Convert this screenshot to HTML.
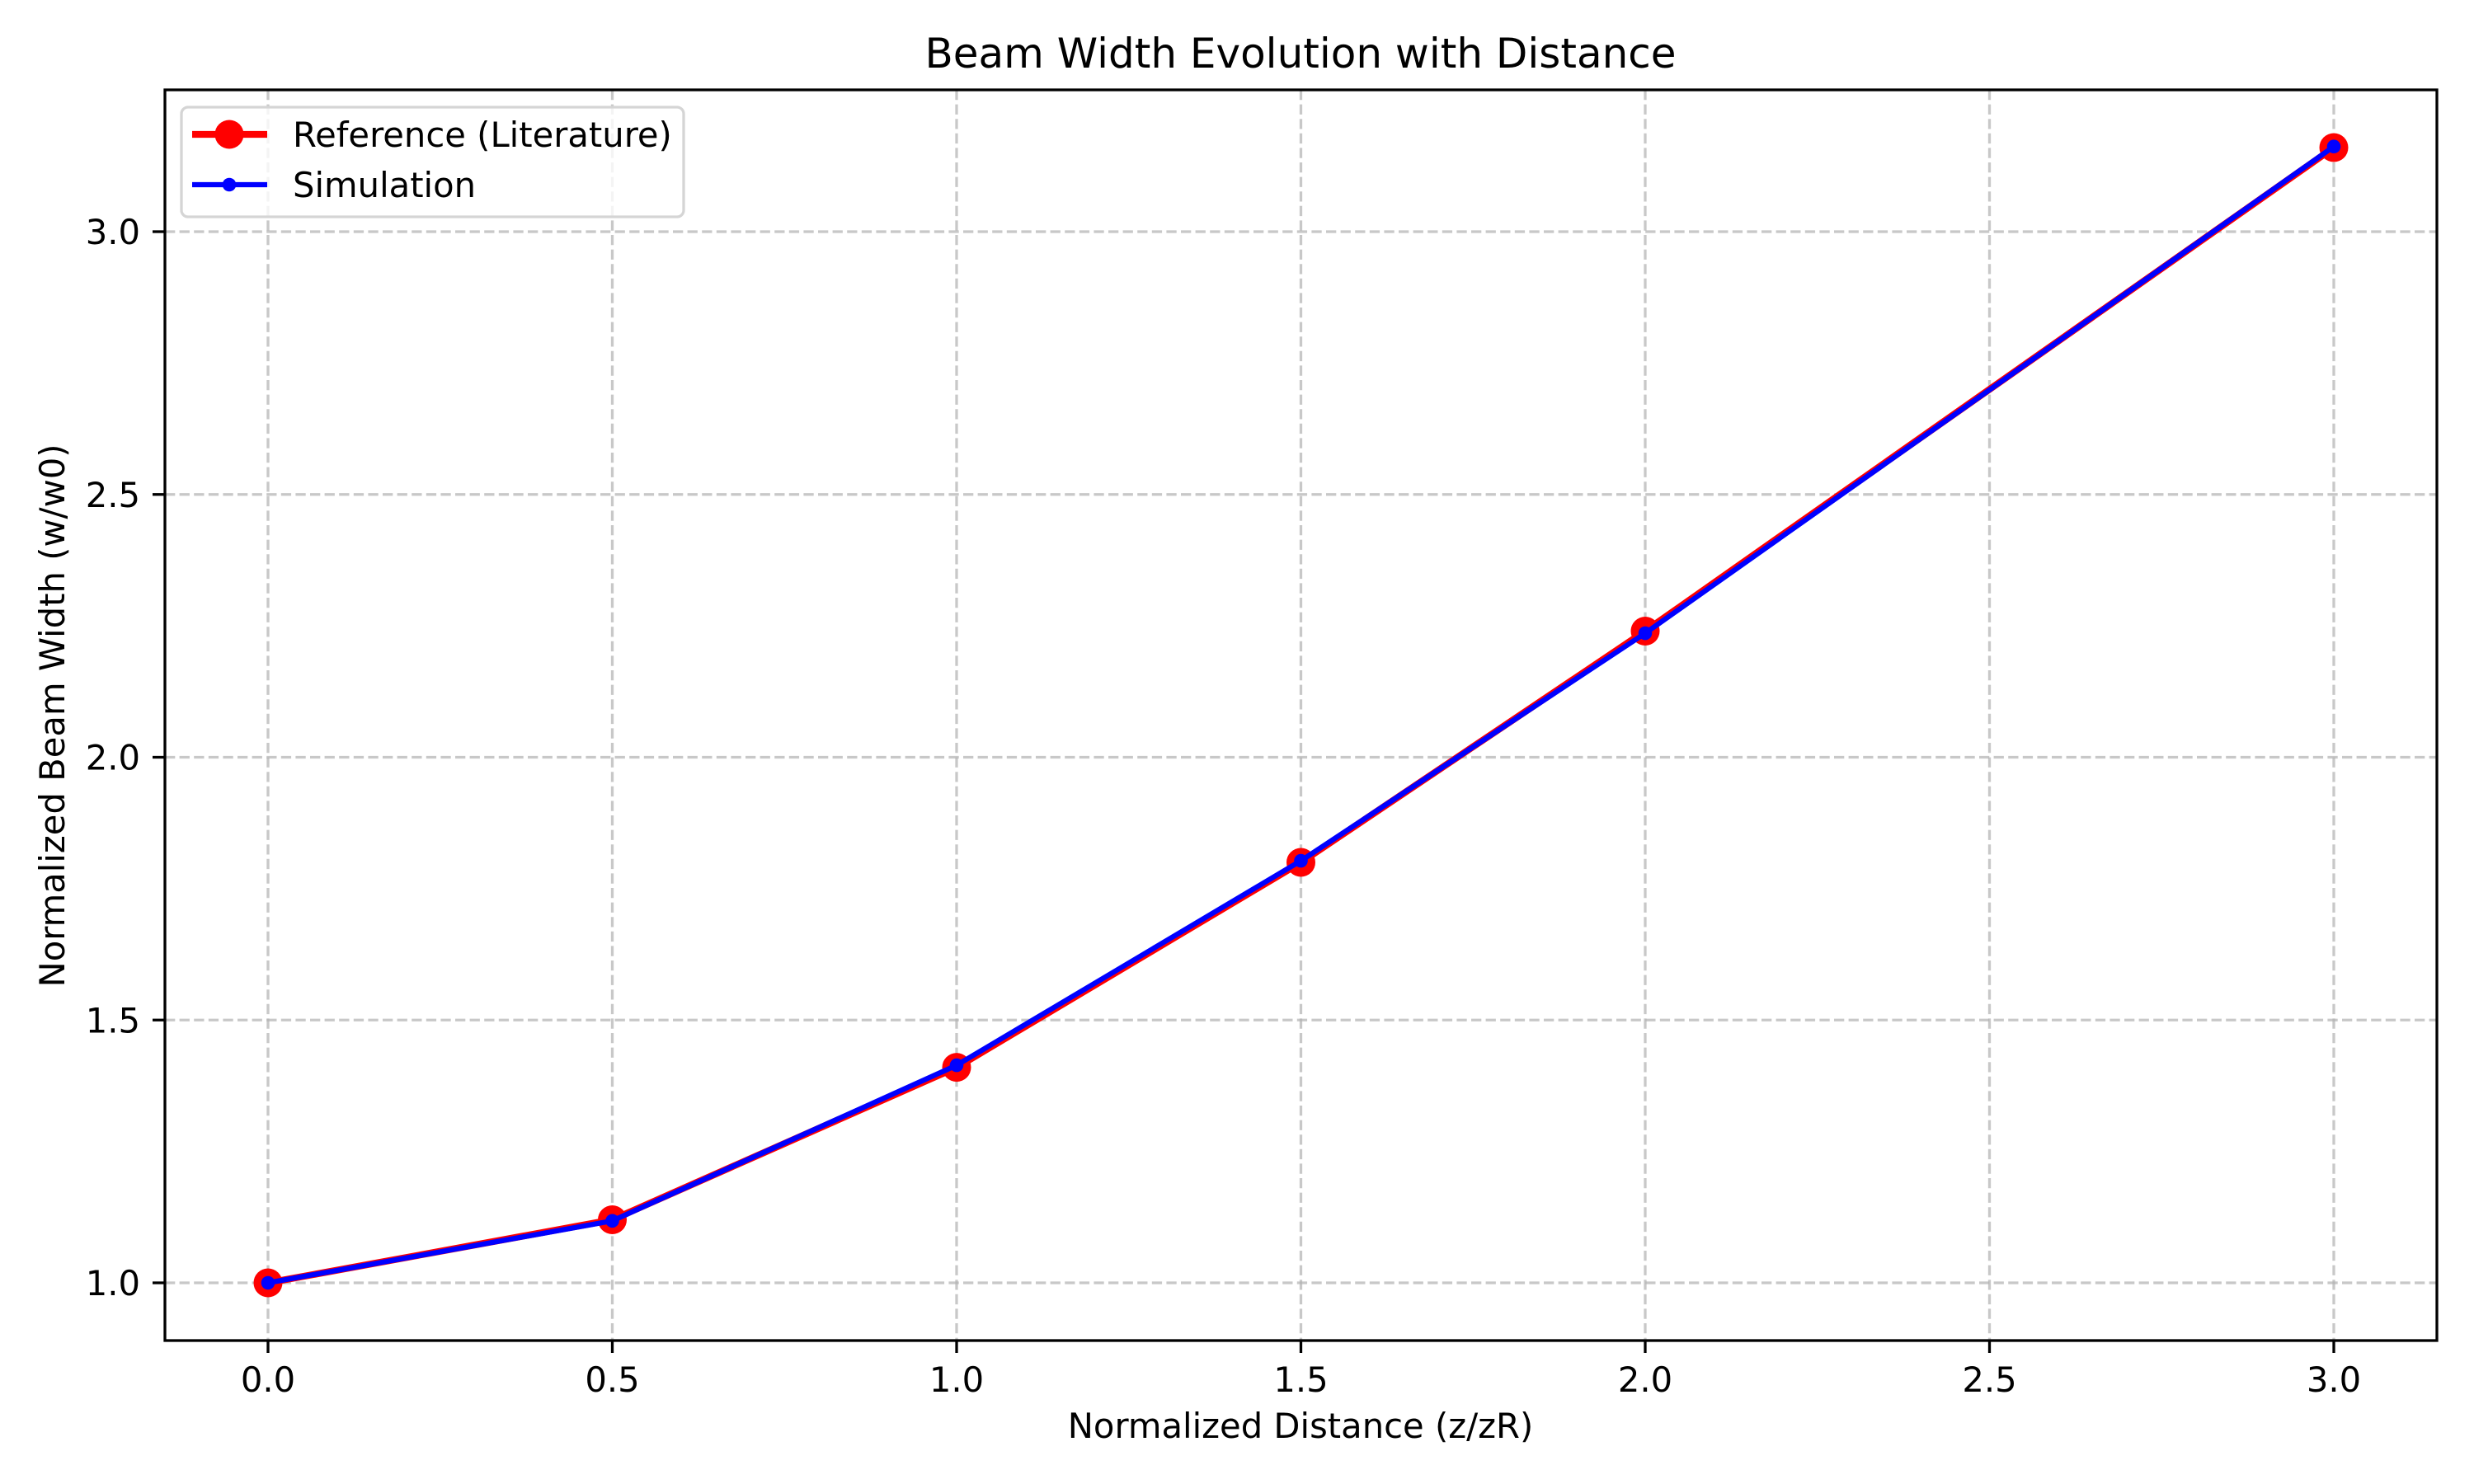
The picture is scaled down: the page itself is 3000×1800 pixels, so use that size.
<!DOCTYPE html>
<html><head><meta charset="utf-8"><style>
html,body{margin:0;padding:0;background:#fff;}
svg{display:block;font-family:"DejaVu Sans","Liberation Sans",sans-serif;}
</style></head><body>
<svg id="chart" width="3000" height="1800" viewBox="0 0 3000 1800">
<rect width="3000" height="1800" fill="#fff"/>
<g id="grid"></g>
<g id="series"></g>
<rect x="200" y="109" width="2755" height="1517" fill="none" stroke="#000" stroke-width="3.3"/>
<g id="ticks"></g>
<text x="1577" y="82" text-anchor="middle" font-size="50">Beam Width Evolution with Distance</text>
<text x="1577" y="1744" text-anchor="middle" font-size="41.7">Normalized Distance (z/zR)</text>
<text x="0" y="0" transform="translate(78,868) rotate(-90)" text-anchor="middle" font-size="41.7">Normalized Beam Width (w/w0)</text>
<g>
<rect x="220" y="130" width="609" height="133" rx="8" fill="#fff" fill-opacity="0.8" stroke="#d5d5d5" stroke-width="3.3"/>
<g>
<line x1="233" y1="163" x2="324" y2="163" stroke="#ff0000" stroke-width="8.3"/>
<circle cx="278" cy="163" r="17.5" fill="#ff0000"/>
<text x="355" y="178" font-size="41.7">Reference (Literature)</text>
</g>
<g>
<line x1="233" y1="224" x2="324" y2="224" stroke="#0000ff" stroke-width="6.25"/>
<circle cx="278" cy="224" r="8.3" fill="#0000ff"/>
<text x="355" y="239" font-size="41.7">Simulation</text>
</g>
</g>
</svg>
<script>
const xValues = [0, 0.5, 1.0, 1.5, 2.0, 3.0];
const referenceValues = [1.0, 1.12, 1.41, 1.80, 2.24, 3.16];
const simulationValues = [1.0, 1.118, 1.414, 1.803, 2.236, 3.162];
const xTicks = [0, 0.5, 1.0, 1.5, 2.0, 2.5, 3.0];
const xTickLabels = ["0.0", "0.5", "1.0", "1.5", "2.0", "2.5", "3.0"];
const yTicks = [1.0, 1.5, 2.0, 2.5, 3.0];
const yTickLabels = ["1.0", "1.5", "2.0", "2.5", "3.0"];

const NS = "http://www.w3.org/2000/svg";
const xScale = v => 325 + v * 835;
const yScale = v => 1556 - (v - 1) * 637.5;
function mk(tag, attrs, parent) {
  const e = document.createElementNS(NS, tag);
  for (const k in attrs) e.setAttribute(k, attrs[k]);
  parent.appendChild(e);
  return e;
}
const grid = document.getElementById("grid");
const ticks = document.getElementById("ticks");
const series = document.getElementById("series");
xTicks.forEach((t, i) => {
  const x = xScale(t);
  const g = mk("line", {x1: x, x2: x, y1: 109, y2: 1626, stroke: "#b0b0b0", "stroke-opacity": 0.7, "stroke-width": 3.3, "stroke-dasharray": "12.3,5.3"}, grid);
  
  
  const tk = mk("line", {x1: x, x2: x, y1: 1626, y2: 1641, stroke: "#000", "stroke-width": 3.3}, ticks);
  
  
  const tx = mk("text", {x: x, y: 1688, "text-anchor": "middle", "font-size": 41.7}, ticks);
  tx.textContent = xTickLabels[i];
  
  
});
yTicks.forEach((t, i) => {
  const y = yScale(t);
  const g = mk("line", {x1: 200, x2: 2955, y1: y, y2: y, stroke: "#b0b0b0", "stroke-opacity": 0.7, "stroke-width": 3.3, "stroke-dasharray": "12.3,5.3"}, grid);
  
  
  const tk = mk("line", {x1: 185, x2: 200, y1: y, y2: y, stroke: "#000", "stroke-width": 3.3}, ticks);
  
  
  const tx = mk("text", {x: 170, y: y + 15, "text-anchor": "end", "font-size": 41.7}, ticks);
  tx.textContent = yTickLabels[i];
  
  
});
function drawSeries(vals, color, lw, r, name) {
  const pts = xValues.map((x, i) => xScale(x) + "," + yScale(vals[i])).join(" ");
  const pl = mk("polyline", {points: pts, fill: "none", stroke: color, "stroke-width": lw, "stroke-linejoin": "round", "stroke-linecap": "round"}, series);
  
  
  xValues.forEach((x, i) => {
    const c = mk("circle", {cx: xScale(x), cy: yScale(vals[i]), r: r, fill: color}, series);
    
    
  });
}
drawSeries(referenceValues, "#ff0000", 8.3, 17.5, "reference");
drawSeries(simulationValues, "#0000ff", 6.25, 8.3, "simulation");
</script>
</body></html>
